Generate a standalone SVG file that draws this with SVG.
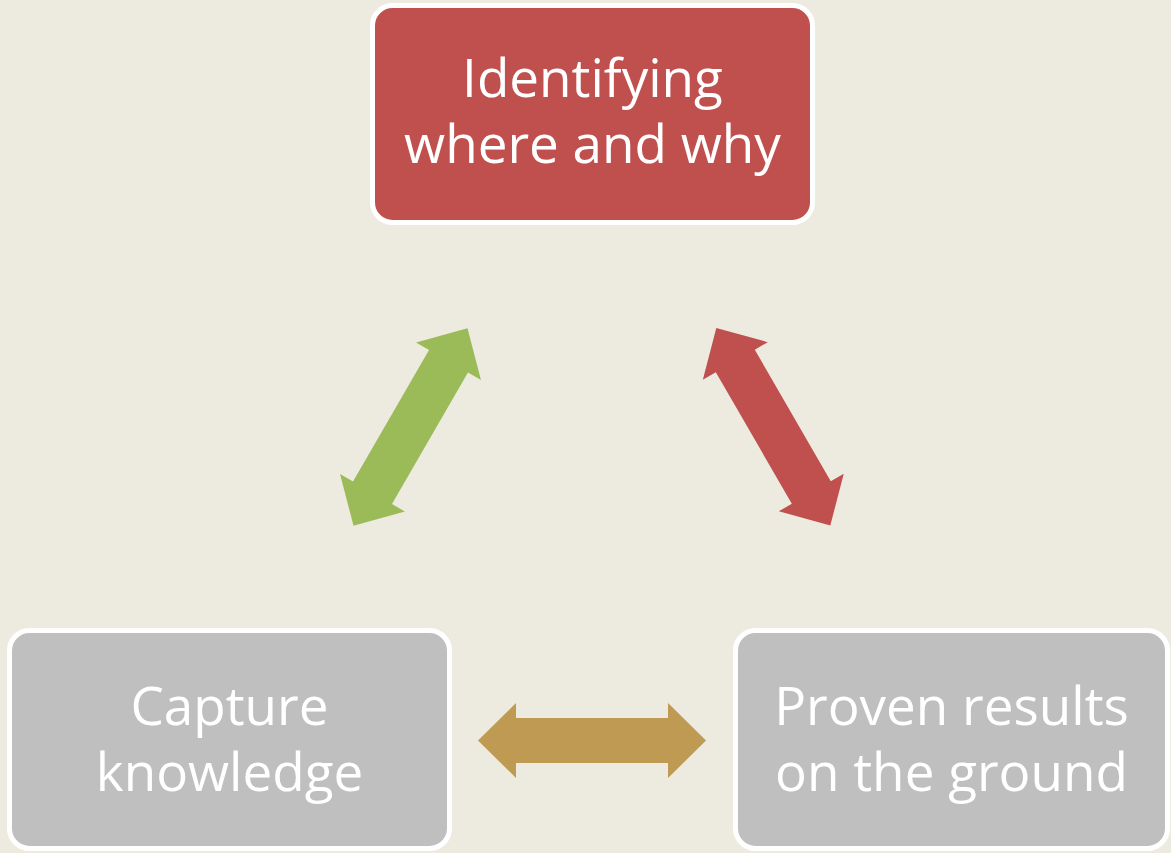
<svg xmlns="http://www.w3.org/2000/svg" width="1171" height="853" viewBox="0 0 1171 853">
<style>
.box{stroke:#FFFFFF;stroke-width:5}
.red{fill:#C0504D}
.grey{fill:#BFBFBF}
.lbl{font-family:"Open Sans","Noto Sans","Liberation Sans",sans-serif;font-size:53px;fill:#FFFFFF;text-anchor:middle}
</style>
<defs>
<polygon id="dbl" points="-114,0 -76,-37.5 -76,-22.5 76,-22.5 76,-37.5 114,0 76,37.5 76,22.5 -76,22.5 -76,37.5"/>
</defs>
<rect x="0" y="0" width="1171" height="853" fill="#EDEBE0"/>
<g id="connectors">
<use href="#dbl" fill="#9BBB59" transform="translate(410.5,427) rotate(-60)"/>
<use href="#dbl" fill="#C0504D" transform="translate(773.3,426.7) rotate(60)"/>
<use href="#dbl" fill="#BE9A52" transform="translate(592,740.5)"/>
</g>
<g id="node-identifying">
<rect class="box red" x="372.5" y="5.5" width="440" height="217" rx="20"/>
<text class="lbl" x="592.5" y="97">Identifying</text>
<text class="lbl" x="592.5" y="163">where and why</text>
</g>
<g id="node-capture">
<rect class="box grey" x="9.5" y="630.5" width="440" height="218" rx="20"/>
<text class="lbl" x="229.5" y="725">Capture</text>
<text class="lbl" x="229.5" y="791">knowledge</text>
</g>
<g id="node-proven">
<rect class="box grey" x="735.5" y="630.5" width="432" height="218" rx="20"/>
<text class="lbl" x="951.5" y="725">Proven results</text>
<text class="lbl" x="951.5" y="791">on the ground</text>
</g>
</svg>
